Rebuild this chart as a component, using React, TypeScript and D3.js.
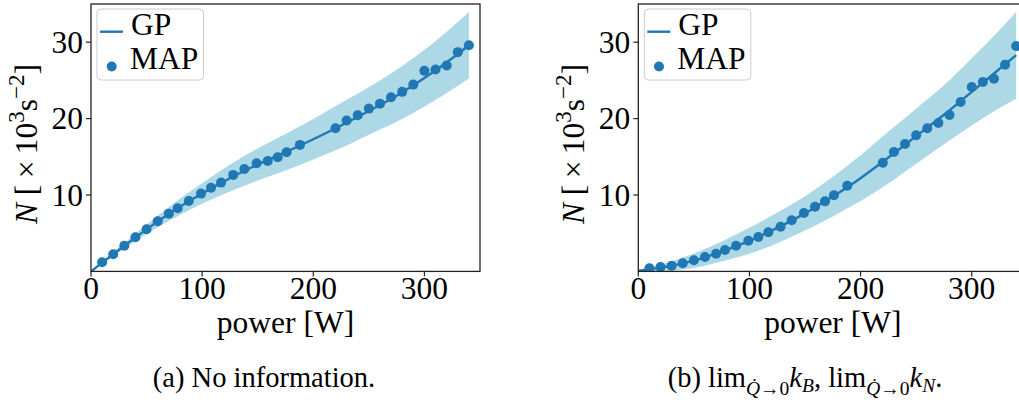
import React from 'react';
import * as d3 from 'd3';

// ---- data ----
const powerX = [10, 20, 30, 40, 50, 60, 70, 78, 88, 99, 108, 117, 128, 138, 149, 159, 168, 176, 188, 220, 230, 240, 250, 260, 270, 280, 290, 300, 310, 320, 330, 340];
const mapNoInfo = [1.19, 2.24, 3.37, 4.47, 5.51, 6.56, 7.56, 8.26, 9.22, 10.18, 10.96, 11.62, 12.63, 13.41, 14.16, 14.46, 14.94, 15.6, 16.56, 18.74, 19.74, 20.45, 21.31, 21.96, 22.8, 23.5, 24.45, 26.25, 26.42, 26.94, 28.7, 29.61];
const mapLimits = [0.41, 0.58, 0.75, 1.06, 1.45, 1.88, 2.32, 2.8, 3.36, 4.02, 4.5, 5.12, 5.85, 6.69, 7.64, 8.47, 9.17, 9.96, 11.22, 14.23, 15.63, 16.68, 17.81, 18.73, 19.42, 20.47, 22.17, 24.14, 24.79, 25.22, 27.06, 29.5];

const gpGridX = [0, 25, 50, 75, 100, 125, 150, 175, 200, 225, 250, 275, 300, 325, 340];
const gpMeanNoInfo = [0, 2.8, 5.5, 8.0, 10.2, 12.2, 14.0, 15.6, 17.3, 19.1, 21.0, 23.0, 25.3, 27.9, 29.6];
const gpHalfNoInfo = [0, 0.3, 0.6, 1.0, 1.35, 1.75, 2.1, 2.4, 2.65, 2.95, 3.1, 3.4, 3.7, 4.1, 4.35];
const gpMeanLimits = [0.1, 0.6, 1.4, 2.6, 4.0, 5.7, 7.6, 9.8, 12.2, 14.9, 17.7, 20.5, 23.5, 26.5, 28.3];
const gpHalfLimits = [0, 0.5, 0.95, 1.3, 1.7, 2.0, 2.25, 2.6, 3.0, 3.4, 3.6, 3.85, 4.4, 5.1, 5.7];

const xTicks = [0, 100, 200, 300];
const yTicks = [10, 20, 30];
const legendLabels = ['GP', 'MAP'];

const BLUE = '#1f77b4';
const BAND = '#add8e6';
const FONT = '"Liberation Serif", "Times New Roman", Times, serif';
const FS = 31.5;

interface PanelProps {
  id: string;
  left: number;
  mean: number[];
  half: number[];
  pts: number[];
}

function Panel({ id, left, mean, half, pts }: PanelProps) {
  const top = 4;
  const bottom = 271.4;
  const width = 389;
  const x = d3.scaleLinear().domain([0, 350]).range([left, left + width]);
  const y = d3.scaleLinear().domain([0, 35]).range([bottom, top]);

  const area = d3
    .area<number>()
    .x((_, i) => x(gpGridX[i]))
    .y0((_, i) => y(mean[i] - half[i]))
    .y1((_, i) => y(mean[i] + half[i]))
    .curve(d3.curveMonotoneX);
  const line = d3
    .line<number>()
    .x((_, i) => x(gpGridX[i]))
    .y((d) => y(d))
    .curve(d3.curveMonotoneX);

  const lx = left + 6;
  return (
    <g>
      <defs>
        <clipPath id={id}>
          <rect x={left} y={top} width={width} height={bottom - top} />
        </clipPath>
      </defs>
      <g clipPath={`url(#${id})`}>
        <path d={area(mean) || ''} fill={BAND} stroke="none" />
        <path d={line(mean) || ''} fill="none" stroke={BLUE} strokeWidth={2.4} />
        {pts.map((v, i) => (
          <circle key={i} cx={x(powerX[i])} cy={y(v)} r={5} fill={BLUE} />
        ))}
      </g>
      {/* spines */}
      <rect x={left} y={top} width={width} height={bottom - top} fill="none" stroke="#222" strokeWidth={1.3} />
      {/* x ticks */}
      {xTicks.map((t) => (
        <g key={t}>
          <line x1={x(t)} x2={x(t)} y1={bottom} y2={bottom + 5} stroke="#222" strokeWidth={1.2} />
          <text x={x(t)} y={bottom + 28} textAnchor="middle" fontFamily={FONT} fontSize={FS}>
            {t}
          </text>
        </g>
      ))}
      {yTicks.map((t) => (
        <g key={t}>
          <line x1={left - 5} x2={left} y1={y(t)} y2={y(t)} stroke="#222" strokeWidth={1.2} />
          <text x={left - 8} y={y(t) + 10.5} textAnchor="end" fontFamily={FONT} fontSize={FS}>
            {t}
          </text>
        </g>
      ))}
      {/* axis labels */}
      <text x={left + width / 2} y={333} textAnchor="middle" fontFamily={FONT} fontSize={FS}>
        power [W]
      </text>
      <text transform={`translate(${left - 54},144) rotate(-90)`} textAnchor="middle" fontFamily={FONT} fontSize={FS}>
        <tspan fontStyle="italic">N</tspan>
        <tspan> [{'\u2009'}×{'\u2009'}10</tspan>
        <tspan dy={-13} fontSize={23}>3</tspan>
        <tspan dy={13}>s</tspan>
        <tspan dy={-13} fontSize={23}>−2</tspan>
        <tspan dy={13}>]</tspan>
      </text>
      {/* legend */}
      <rect x={lx} y={9} width={106.5} height={71} rx={4} fill="#fff" fillOpacity={0.8} stroke="#cccccc" strokeWidth={1} />
      <line x1={lx + 3} x2={lx + 26} y1={31.7} y2={31.7} stroke={BLUE} strokeWidth={2.4} />
      <text x={lx + 34} y={35} fontFamily={FONT} fontSize={FS}>
        {legendLabels[0]}
      </text>
      <circle cx={lx + 14.7} cy={66.5} r={5} fill={BLUE} />
      <text x={lx + 33} y={69} fontFamily={FONT} fontSize={FS}>
        {legendLabels[1]}
      </text>
    </g>
  );
}

export default function App() {
  const capFS = 28.5;
  const subFS = 19.5;
  return (
    <svg
      width={1019}
      height={412}
      viewBox="0 0 1019 412"
      style={{ position: 'absolute', left: 0, top: 0, background: '#fff' }}
    >
      <rect x={0} y={0} width={1019} height={412} fill="#fff" />
      <Panel id="clipA" left={91} mean={gpMeanNoInfo} half={gpHalfNoInfo} pts={mapNoInfo} />
      <Panel id="clipB" left={638.3} mean={gpMeanLimits} half={gpHalfLimits} pts={mapLimits} />
      <text x={264} y={387} textAnchor="middle" fontFamily={FONT} fontSize={capFS}>
        (a) No information.
      </text>
      <text x={805} y={387} textAnchor="middle" fontFamily={FONT} fontSize={capFS}>
        <tspan>(b) lim</tspan>
        <tspan dy={8} fontSize={subFS} fontStyle="italic">Q̇</tspan>
        <tspan fontSize={subFS}>→0</tspan>
        <tspan dy={-8} fontStyle="italic">k</tspan>
        <tspan dy={5} fontSize={subFS} fontStyle="italic">B</tspan>
        <tspan dy={-5}>, lim</tspan>
        <tspan dy={8} fontSize={subFS} fontStyle="italic">Q̇</tspan>
        <tspan fontSize={subFS}>→0</tspan>
        <tspan dy={-8} fontStyle="italic">k</tspan>
        <tspan dy={5} fontSize={subFS} fontStyle="italic">N</tspan>
        <tspan dy={-5}>.</tspan>
      </text>
    </svg>
  );
}
